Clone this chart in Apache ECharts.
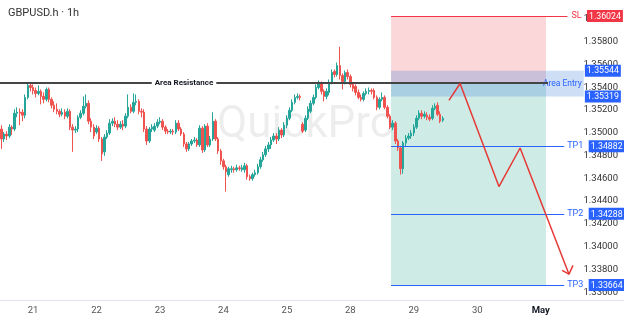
<!DOCTYPE html>
<html><head><meta charset="utf-8">
<script src="https://cdn.jsdelivr.net/npm/echarts@6/dist/echarts.min.js"></script>
<style>html,body{margin:0;padding:0;background:#fff}#c{width:624px;height:316px}</style>
</head><body><div id="c"></div>
<script>
// ---- data ----
const dayNames = ['20','21','22','23','24','25','28','29','30','May','2'];
const tickLabels = ['21','22','23','24','25','28','29','30','May'];
const firstHour = 12;
const slotCount = 236;
// [open, close, low, high]
const ohlc = [
[1.35032,1.34945,1.34858,1.35066],[1.34945,1.34988,1.34919,1.35006],[1.34988,1.34971,1.34936,1.35014],[1.34971,1.35049,1.34953,1.35075],
[1.35049,1.35032,1.34980,1.35066],[1.35032,1.35171,1.35014,1.35206],[1.35171,1.35180,1.35136,1.35223],[1.35180,1.35171,1.35066,1.35214],
[1.35180,1.35153,1.35101,1.35206],[1.35153,1.35310,1.35127,1.35336],[1.35310,1.35415,1.35293,1.35432],[1.35415,1.35397,1.35363,1.35441],
[1.35397,1.35371,1.35336,1.35424],[1.35371,1.35345,1.35310,1.35397],[1.35345,1.35363,1.35328,1.35415],[1.35363,1.35319,1.35249,1.35380],
[1.35319,1.35293,1.35258,1.35354],[1.35293,1.35380,1.35275,1.35397],[1.35380,1.35293,1.35267,1.35397],[1.35293,1.35241,1.35214,1.35310],
[1.35241,1.35206,1.35180,1.35275],[1.35206,1.35188,1.35162,1.35258],[1.35188,1.35162,1.35136,1.35206],[1.35162,1.35180,1.35145,1.35214],
[1.35180,1.35145,1.35119,1.35206],[1.35145,1.35188,1.35127,1.35214],[1.35188,1.35049,1.35023,1.35206],[1.35049,1.35023,1.34832,1.35075],
[1.35023,1.35032,1.34997,1.35058],[1.35032,1.35136,1.35006,1.35153],[1.35136,1.35171,1.35119,1.35197],[1.35171,1.35232,1.35153,1.35319],
[1.35232,1.35258,1.35214,1.35336],[1.35258,1.35101,1.35075,1.35284],[1.35101,1.35049,1.35006,1.35127],[1.35049,1.34971,1.34945,1.35075],
[1.35006,1.35040,1.34988,1.35066],[1.35040,1.34945,1.34919,1.35058],[1.34945,1.34814,1.34753,1.34962],[1.34832,1.34962,1.34797,1.34988],
[1.34962,1.34997,1.34945,1.35023],[1.34997,1.35084,1.34980,1.35119],[1.35084,1.35101,1.35058,1.35127],[1.35101,1.35075,1.35049,1.35136],
[1.35075,1.35049,1.35023,1.35110],[1.35049,1.35075,1.35032,1.35101],[1.35075,1.35058,1.35023,1.35110],[1.35058,1.35145,1.35040,1.35171],
[1.35145,1.35223,1.35127,1.35336],[1.35223,1.35188,1.35171,1.35249],[1.35188,1.35267,1.35171,1.35345],[1.35267,1.35275,1.35241,1.35336],
[1.35275,1.35188,1.35162,1.35293],[1.35188,1.35180,1.35136,1.35214],[1.35180,1.35032,1.35006,1.35206],[1.35032,1.34927,1.34893,1.35058],
[1.34927,1.35032,1.34910,1.35049],[1.35032,1.35049,1.35006,1.35075],[1.35023,1.35058,1.35006,1.35084],[1.35058,1.35093,1.35040,1.35119],
[1.35093,1.35101,1.35075,1.35136],[1.35101,1.35049,1.35023,1.35119],[1.35049,1.35014,1.34988,1.35066],[1.35014,1.35006,1.34988,1.35032],
[1.35006,1.35014,1.34988,1.35032],[1.35014,1.35006,1.34980,1.35032],[1.35006,1.35084,1.34988,1.35110],[1.35084,1.35032,1.35014,1.35110],
[1.35032,1.34988,1.34971,1.35049],[1.34988,1.34901,1.34875,1.35006],[1.34901,1.34858,1.34832,1.34919],[1.34858,1.34901,1.34840,1.34919],
[1.34901,1.34927,1.34884,1.34945],[1.34927,1.34936,1.34910,1.34962],[1.34936,1.34893,1.34875,1.34953],[1.34893,1.35040,1.34875,1.35066],
[1.35040,1.34849,1.34823,1.35058],[1.34849,1.35058,1.34832,1.35075],[1.35058,1.34893,1.34875,1.35084],[1.34893,1.34945,1.34875,1.34971],
[1.34945,1.35101,1.34927,1.35180],[1.35101,1.34945,1.34927,1.35119],[1.34945,1.34840,1.34814,1.34962],[1.34840,1.34753,1.34719,1.34858],
[1.34753,1.34701,1.34675,1.34771],[1.34701,1.34658,1.34483,1.34719],[1.34632,1.34684,1.34614,1.34701],[1.34675,1.34684,1.34649,1.34710],
[1.34684,1.34675,1.34649,1.34701],[1.34675,1.34692,1.34658,1.34719],[1.34692,1.34684,1.34666,1.34710],[1.34675,1.34692,1.34658,1.34719],
[1.34675,1.34710,1.34649,1.34736],[1.34710,1.34614,1.34588,1.34727],[1.34614,1.34597,1.34579,1.34632],[1.34597,1.34632,1.34579,1.34649],
[1.34632,1.34649,1.34614,1.34675],[1.34649,1.34701,1.34632,1.34727],[1.34701,1.34762,1.34684,1.34788],[1.34762,1.34806,1.34745,1.34832],
[1.34806,1.34858,1.34788,1.34884],[1.34858,1.34893,1.34832,1.34919],[1.34893,1.34936,1.34858,1.34962],[1.34936,1.34971,1.34919,1.34997],
[1.34971,1.34945,1.34901,1.34997],[1.34945,1.35023,1.34927,1.35049],[1.35023,1.34980,1.34953,1.35040],[1.34980,1.35066,1.34962,1.35093],
[1.35066,1.35127,1.35040,1.35153],[1.35127,1.35197,1.35110,1.35223],[1.35197,1.35267,1.35180,1.35293],[1.35267,1.35310,1.35249,1.35336],
[1.35310,1.35319,1.35293,1.35345],[1.35319,1.35310,1.35284,1.35336],[1.35075,1.35014,1.34997,1.35093],[1.35023,1.35127,1.35006,1.35153],
[1.35127,1.35206,1.35110,1.35232],[1.35188,1.35258,1.35171,1.35284],[1.35258,1.35310,1.35241,1.35336],[1.35310,1.35397,1.35293,1.35424],
[1.35397,1.35432,1.35380,1.35459],[1.35432,1.35363,1.35336,1.35450],[1.35363,1.35319,1.35275,1.35380],[1.35319,1.35363,1.35293,1.35389],
[1.35354,1.35441,1.35328,1.35467],[1.35441,1.35528,1.35424,1.35555],[1.35537,1.35511,1.35485,1.35555],[1.35511,1.35589,1.35493,1.35616],
[1.35589,1.35502,1.35467,1.35755],[1.35502,1.35450,1.35380,1.35520],[1.35450,1.35528,1.35424,1.35546],[1.35528,1.35493,1.35467,1.35555],
[1.35493,1.35424,1.35397,1.35511],[1.35424,1.35389,1.35363,1.35441],[1.35406,1.35354,1.35328,1.35424],[1.35354,1.35310,1.35293,1.35380],
[1.35310,1.35293,1.35275,1.35336],[1.35293,1.35345,1.35275,1.35363],[1.35345,1.35363,1.35328,1.35389],[1.35363,1.35371,1.35336,1.35397],
[1.35371,1.35363,1.35336,1.35389],[1.35371,1.35310,1.35293,1.35389],[1.35310,1.35223,1.35197,1.35328],[1.35223,1.35293,1.35206,1.35310],
[1.35293,1.35310,1.35275,1.35354],[1.35310,1.35223,1.35206,1.35328],[1.35223,1.35145,1.35127,1.35241],[1.35145,1.35049,1.35032,1.35162],
[1.35049,1.35084,1.35023,1.35110],[1.35084,1.34927,1.34901,1.35101],[1.34927,1.34866,1.34840,1.34945],[1.34866,1.34684,1.34632,1.34884],
[1.34684,1.34910,1.34640,1.34927],[1.34910,1.34953,1.34884,1.34980],[1.34953,1.34971,1.34936,1.34997],[1.34971,1.34997,1.34945,1.35023],
[1.34997,1.35049,1.34971,1.35075],[1.35049,1.35127,1.35032,1.35153],[1.35127,1.35171,1.35110,1.35197],[1.35171,1.35145,1.35119,1.35197],
[1.35145,1.35162,1.35127,1.35188],[1.35153,1.35136,1.35110,1.35180],[1.35136,1.35119,1.35101,1.35162],[1.35127,1.35214,1.35110,1.35241],
[1.35214,1.35232,1.35197,1.35258],[1.35241,1.35162,1.35145,1.35267],[1.35162,1.35101,1.35084,1.35188],[1.35110,1.35127,1.35093,1.35145]
];
const resistancePrice = 1.35435;
const slPrice = 1.36024;
const entryPrice = 1.35435;
const entryZone = [1.35544, 1.35319];
const tpPrices = [1.34882, 1.34288, 1.33664];
const tpNames = ['TP1', 'TP2', 'TP3'];
const yMin = 1.334, yMax = 1.36165, yStep = 0.002;
// slot positions (hour index) of the drawings
const toolStart = 147.9, toolEnd = 206.5, entryEnd = 220.8, lineEnd = 213.4, slLineEnd = 214.6, resistEnd = 207.3, resistLabelAt = 69.6;
const projX = [169.8, 174.0, 188.7, 196.7, 215.2];
const projY = [1.35284, 1.35432, 1.34527, 1.34866, 1.33758];
const arrowX = [212.6, 215.2, 216.7];
const arrowY = [1.33792, 1.33758, 1.33836];

// ---- build ----
const categories = [];
for (let d = 0; d < dayNames.length; d++) {
  for (let h = (d === 0 ? firstHour : 0); h < 24; h++) {
    if (categories.length >= slotCount) break;
    categories.push(dayNames[d] + ' ' + String(h).padStart(2, '0') + ':00');
  }
}
const FONT = 'Roboto';
const RED = '#f23645', BLUE = '#2962ff';
function boxLabel(color, prefix, price, dist) {
  return {
    show: true, position: 'end', distance: dist,
    formatter: (prefix ? '{t|' + prefix + '} ' : '') + '{v|' + price.toFixed(5) + '}',
    rich: {
      t: { color: color, fontSize: 9, fontFamily: FONT, padding: [0, 2, 0, 0] },
      v: { color: '#fff', backgroundColor: color, fontSize: 8.8, fontFamily: FONT, padding: [2, 2, 1, 2] }
    }
  };
}
const markLines = [
  [{ coord: [0, resistancePrice], lineStyle: { color: '#454545', width: 2, type: 'solid' } }, { coord: [resistEnd, resistancePrice] }],
  [{ coord: [toolStart, slPrice], lineStyle: { color: RED, width: 1, type: 'solid' } }, { coord: [slLineEnd, slPrice], label: boxLabel(RED, 'SL', slPrice, 4) }]
];
tpPrices.forEach((p, i) => {
  markLines.push([{ coord: [toolStart, p], lineStyle: { color: BLUE, width: 1, type: 'solid' } }, { coord: [lineEnd, p], label: boxLabel(BLUE, tpNames[i], p, 3) }]);
});
entryZone.forEach(p => {
  markLines.push([{ coord: [entryEnd + 0.2, p], lineStyle: { color: 'rgba(0,0,0,0)', width: 0.1 } }, { coord: [entryEnd + 0.4, p], label: boxLabel(BLUE, '', p, 0) }]);
});

const chart = echarts.init(document.getElementById('c'), null, { renderer: 'canvas' });
chart.setOption({
  animation: false,
  backgroundColor: '#fff',
  title: { text: 'GBPUSD.h · 1h', left: 3, top: 3, textStyle: { fontSize: 11, fontWeight: 'normal', color: '#333', fontFamily: FONT } },
  graphic: [{ type: 'text', left: 217, top: 104, z: -1, style: { text: 'QuickPro', fontSize: 44, fontFamily: FONT, fill: 'rgba(0,0,0,0.07)' } }],
  grid: { left: 0, right: 0, top: 0, bottom: 0 },
  xAxis: [{
    type: 'category', data: categories, boundaryGap: true, offset: -15,
    axisLine: { onZero: false, lineStyle: { color: '#e0e3eb' } }, axisTick: { show: false }, splitLine: { show: false },
    axisLabel: {
      interval: (i, v) => v.endsWith(' 00:00') && tickLabels.includes(v.split(' ')[0]),
      formatter: v => { const d = v.split(' ')[0]; return d === 'May' ? '{b|May}' : d; },
      color: '#555', fontSize: 9.5, fontFamily: FONT, margin: 6,
      rich: { b: { fontWeight: 'bold', color: '#131722', fontSize: 9.5, fontFamily: FONT } }
    }
  }, { type: 'value', min: 0, max: slotCount, show: false }],
  yAxis: {
    type: 'value', position: 'right', min: yMin, max: yMax, interval: yStep,
    axisLine: { show: false }, axisTick: { show: false }, splitLine: { show: false },
    axisLabel: { inside: true, margin: 6, formatter: v => v.toFixed(5), color: '#333', fontSize: 9.5, fontFamily: FONT, showMinLabel: false, showMaxLabel: false }
  },
  series: [
    { type: 'line', xAxisIndex: 1, data: [], z: 1, silent: true,
      markArea: { silent: true, data: [
        [{ coord: [toolStart, slPrice], itemStyle: { color: 'rgba(242,54,69,0.2)' } }, { coord: [toolEnd, entryPrice] }],
        [{ coord: [toolStart, entryPrice], itemStyle: { color: 'rgba(8,153,129,0.2)' } }, { coord: [toolEnd, tpPrices[2]] }],
        [{ coord: [toolStart, entryZone[0]], itemStyle: { color: 'rgba(55,123,215,0.25)' },
           label: { show: true, position: 'insideRight', formatter: 'Area Entry', color: BLUE, fontSize: 8.5, fontFamily: FONT, distance: 2 } },
         { coord: [entryEnd, entryZone[1]] }]
      ] } },
    { type: 'candlestick', data: ohlc, z: 3, barWidth: 2,
      itemStyle: { color: '#26a69a', color0: '#ef5350', borderColor: '#26a69a', borderColor0: '#ef5350', borderWidth: 1 } },
    { type: 'line', xAxisIndex: 1, data: [], z: 4, silent: true,
      markLine: { silent: true, symbol: ['none', 'none'], label: { show: false }, lineStyle: { type: 'solid' }, data: markLines },
      markPoint: { silent: true, symbol: 'rect', symbolSize: 0, data: [{ coord: [resistLabelAt, resistancePrice],
        label: { show: true, position: 'inside', formatter: 'Area Resistance', color: '#131722', fontWeight: 'bold', fontSize: 8, fontFamily: FONT, backgroundColor: '#fff', padding: [1, 3] } }] } },
    { type: 'line', xAxisIndex: 1, z: 5, symbol: 'none', silent: true, lineStyle: { color: '#e53935', width: 1.5 },
      data: projX.map((x, i) => [x, projY[i]]) },
    { type: 'line', xAxisIndex: 1, z: 5, symbol: 'none', silent: true, lineStyle: { color: '#e53935', width: 1.5 },
      data: arrowX.map((x, i) => [x, arrowY[i]]) }
  ]
});
</script></body></html>
